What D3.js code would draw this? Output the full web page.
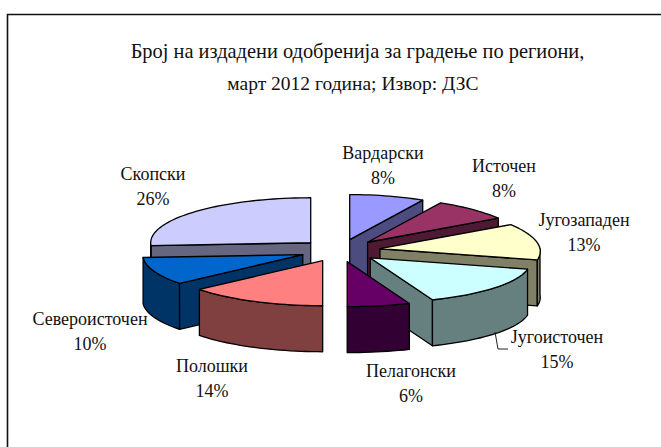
<!DOCTYPE html>
<html><head><meta charset="utf-8">
<script src="https://cdn.jsdelivr.net/npm/d3@7"></script>
<style>html,body{margin:0;padding:0;background:#fff;overflow:hidden}svg{display:block}
text{font-family:"Liberation Serif",serif;fill:#111;font-size:18px}</style>
</head><body><svg id="c" width="661" height="447"></svg>
<script>
const categories=["Вардарски","Источен","Југозападен","Југоисточен","Пелагонски","Полошки","Североисточен","Скопски"];
const values=[8,8,13,15,6,14,10,26];
const topColors=["#9999FF","#993366","#FFFFCC","#CCFFFF","#660066","#FF8080","#0066CC","#CCCCFF"];
const sideColors=["#4C4C80","#4D1933","#808066","#668080","#330033","#804040","#003366","#666680"];
const titleLines=["Број на издадени одобренија за градење по региони,","март 2012 година; Извор: ДЗС"];
const labelPos=[[383,159],[504,172],[584,226],[557,343],[411,377],[212,372],[90,325],[153,180]];
const paintOrder=[7,0,1,6,2,3,5,4];

const svg=d3.select("#c");
svg.append("path").attr("d",d3.line()([[7.5,447],[7.5,14.5],[661,14.5]])).attr("fill","none").attr("stroke","#111").attr("stroke-width",1.6);
titleLines.forEach((t,i)=>svg.append("text").attr("x",[357.5,353][i]).attr("y",[58,90][i]).attr("text-anchor","middle").style("font-size",["20.4px","19.5px"][i]).text(t));

const cx=339.5,cy=250.5,rx=160,ry=45,depth=46,ey=11.3;
const pie=d3.pie().sort(null).value(d=>d)(values);
const proj=(a,ax,ay,dz=0)=>{const sn=Math.sin(a);return [ax+rx*(sn>0?1-0.06*Math.cos(a):1)*sn,ay-ry*Math.cos(a)+dz];};
const line=d3.line();
const g=svg.append("g").attr("stroke","#000").attr("stroke-width",1.3).attr("stroke-linejoin","round");
paintOrder.forEach(i=>{
  const p=pie[i],s=p.startAngle,e=p.endAngle,m=(s+e)/2;
  const ex=Math.sin(m)>0?41:39.5;
  const ax=cx+ex*Math.sin(m),ay=cy-ey*Math.cos(m);
  const A=[ax,ay],A2=[ax,ay+depth];
  const n=Math.max(4,Math.round((e-s)*30));
  const arc=d3.range(n+1).map(k=>s+(e-s)*k/n);
  const P=a=>proj(a,ax,ay),Q=a=>proj(a,ax,ay,depth);
  const face=pts=>g.append("path").attr("d",line(pts)+"Z");
  if(Math.sin(s)<-1e-6) face([A,P(s),Q(s),A2]).attr("fill",sideColors[i]);
  if(Math.sin(e)>1e-6) face([A,P(e),Q(e),A2]).attr("fill",sideColors[i]);
  const w0=Math.max(s,Math.PI/2),w1=Math.min(e,3*Math.PI/2);
  if(w1>w0){
    const k=Math.max(3,Math.round((w1-w0)*30));
    const wa=d3.range(k+1).map(j=>w0+(w1-w0)*j/k);
    face(wa.map(P).concat(wa.slice().reverse().map(Q))).attr("fill",sideColors[i]);
  }
  face([A].concat(arc.map(P))).attr("fill",topColors[i]);
});
categories.forEach((c,i)=>{
  const [x,y]=labelPos[i];
  svg.append("text").attr("x",x).attr("y",y).attr("text-anchor","middle").text(c);
  svg.append("text").attr("x",x).attr("y",y+25).attr("text-anchor","middle").text(values[i]+"%");
});
svg.append("path").attr("d",d3.line()([[495,332],[498,349],[508,349]])).attr("fill","none").attr("stroke","#222");
</script></body></html>
